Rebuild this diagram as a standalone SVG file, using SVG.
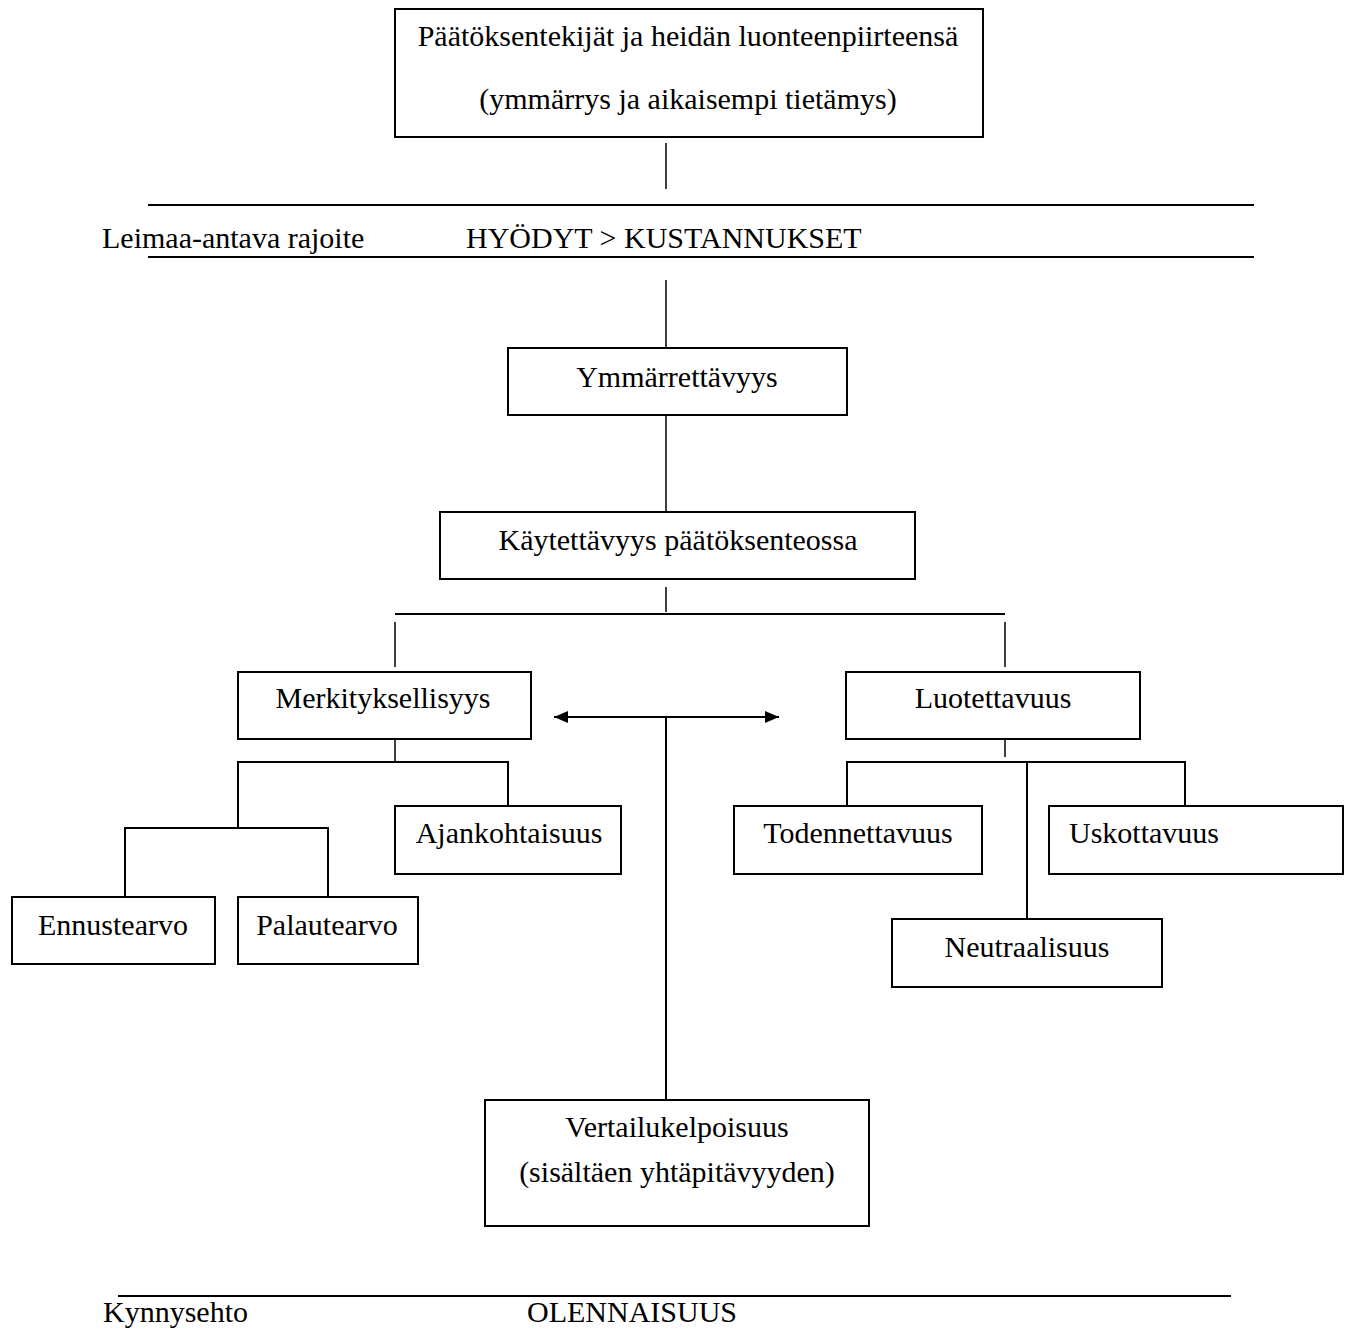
<svg xmlns="http://www.w3.org/2000/svg" width="1349" height="1335" viewBox="0 0 1349 1335">
<style>
  text { font-family: "Liberation Serif", "Times New Roman", serif; font-size: 30px; fill: #000; }
  .c { text-anchor: middle; }
  .box { fill: #fff; stroke: #000; stroke-width: 2; }
  .ln { stroke: #000; stroke-width: 2; fill: none; }
  .thin { stroke: #000; stroke-width: 1.5; fill: none; }
</style>
<defs>
  <marker id="ah" viewBox="0 0 14 12" refX="14" refY="6" markerWidth="14" markerHeight="12" markerUnits="userSpaceOnUse" orient="auto-start-reverse">
    <path d="M0,0 L14,6 L0,12 z" fill="#000"/>
  </marker>
</defs>
<rect width="1349" height="1335" fill="#fff"/>
<g id="connectors">
  <line class="thin" x1="666" y1="143" x2="666" y2="189"/>
  <line class="ln" x1="148" y1="205" x2="1254" y2="205"/>
  <line class="ln" x1="148" y1="257" x2="1254" y2="257"/>
  <line class="thin" x1="666" y1="280" x2="666" y2="348"/>
  <line class="thin" x1="666" y1="415" x2="666" y2="512"/>
  <line class="thin" x1="666" y1="587" x2="666" y2="612"/>
  <line class="ln" x1="395" y1="614" x2="1005" y2="614"/>
  <line class="thin" x1="395" y1="622" x2="395" y2="667"/>
  <line class="thin" x1="1005" y1="622" x2="1005" y2="667"/>
  <line class="ln" x1="554" y1="717" x2="779" y2="717" marker-start="url(#ah)" marker-end="url(#ah)"/>
  <line class="ln" x1="666" y1="717" x2="666" y2="1100"/>
  <line class="thin" x1="395" y1="739" x2="395" y2="762"/>
  <polyline class="ln" points="238,828 238,762 508,762 508,806"/>
  <polyline class="ln" points="125,897 125,828 328,828 328,897"/>
  <line class="thin" x1="1005" y1="734" x2="1005" y2="757"/>
  <polyline class="ln" points="847,806 847,762 1185,762 1185,806"/>
  <line class="ln" x1="1027" y1="762" x2="1027" y2="919"/>
  <line class="ln" x1="118" y1="1296" x2="1231" y2="1296"/>
</g>
<g id="n-top">
  <rect class="box" x="395" y="9" width="588" height="128"/>
  <text class="c" x="688" y="46">Päätöksentekijät ja heidän luonteenpiirteensä</text>
  <text class="c" x="688" y="109">(ymmärrys ja aikaisempi tietämys)</text>
</g>
<g id="n-rajoite">
  <text x="102" y="248">Leimaa-antava rajoite</text>
  <text x="466" y="248">HYÖDYT &gt; KUSTANNUKSET</text>
</g>
<g id="n-ymm">
  <rect class="box" x="508" y="348" width="339" height="67"/>
  <text class="c" x="677" y="387">Ymmärrettävyys</text>
</g>
<g id="n-kayt">
  <rect class="box" x="440" y="512" width="475" height="67"/>
  <text class="c" x="678" y="550">Käytettävyys päätöksenteossa</text>
</g>
<g id="n-merk">
  <rect class="box" x="238" y="672" width="293" height="67"/>
  <text class="c" x="383" y="708">Merkityksellisyys</text>
</g>
<g id="n-luot">
  <rect class="box" x="846" y="672" width="294" height="67"/>
  <text class="c" x="993" y="708">Luotettavuus</text>
</g>
<g id="n-ajan">
  <rect class="box" x="395" y="806" width="226" height="68"/>
  <text class="c" x="509" y="843">Ajankohtaisuus</text>
</g>
<g id="n-ennuste">
  <rect class="box" x="12" y="897" width="203" height="67"/>
  <text class="c" x="113" y="935">Ennustearvo</text>
</g>
<g id="n-palaute">
  <rect class="box" x="238" y="897" width="180" height="67"/>
  <text class="c" x="327" y="935">Palautearvo</text>
</g>
<g id="n-toden">
  <rect class="box" x="734" y="806" width="248" height="68"/>
  <text class="c" x="858" y="843">Todennettavuus</text>
</g>
<g id="n-usko">
  <rect class="box" x="1049" y="806" width="294" height="68"/>
  <text x="1069" y="843">Uskottavuus</text>
</g>
<g id="n-neutr">
  <rect class="box" x="892" y="919" width="270" height="68"/>
  <text class="c" x="1027" y="957">Neutraalisuus</text>
</g>
<g id="n-vert">
  <rect class="box" x="485" y="1100" width="384" height="126"/>
  <text class="c" x="677" y="1137">Vertailukelpoisuus</text>
  <text class="c" x="677" y="1182">(sisältäen yhtäpitävyyden)</text>
</g>
<g id="n-kynnys">
  <text x="103" y="1322">Kynnysehto</text>
  <text x="527" y="1322">OLENNAISUUS</text>
</g>
</svg>
